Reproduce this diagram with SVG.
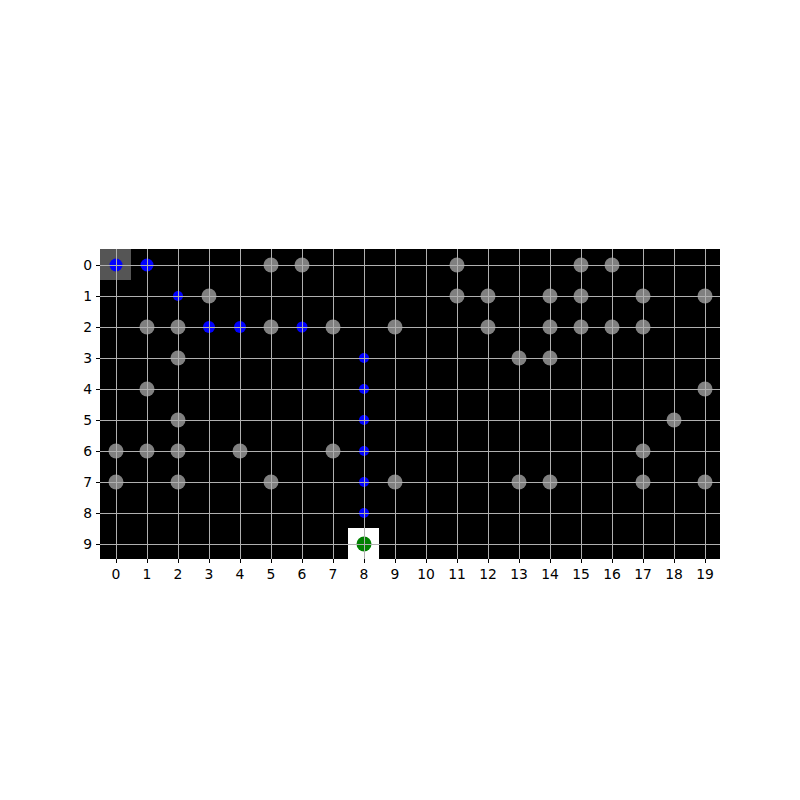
<svg xmlns="http://www.w3.org/2000/svg" width="800" height="800" viewBox="0 0 800 800">
<style>
.obs{fill:#808080}
.path{fill:#0000ff}
.grid line{stroke:#b0b0b0;stroke-width:1}
.tick{stroke:#000;stroke-width:1}
.lbl{font-family:"DejaVu Sans",sans-serif;font-size:13.9px;fill:#000}
</style>
<rect width="800" height="800" fill="#fff"/>
<rect x="100" y="249" width="620" height="310" fill="#000"/>
<g id="start"><rect x="100" y="249" width="31" height="31" fill="#555555"/></g>
<g id="obstacles" transform="translate(0.5,0.5)">
<circle class="obs" cx="270.5" cy="264.5" r="7.5"/><circle class="obs" cx="301.5" cy="264.5" r="7.5"/><circle class="obs" cx="456.5" cy="264.5" r="7.5"/><circle class="obs" cx="580.5" cy="264.5" r="7.5"/><circle class="obs" cx="611.5" cy="264.5" r="7.5"/>
<circle class="obs" cx="208.5" cy="295.5" r="7.5"/><circle class="obs" cx="456.5" cy="295.5" r="7.5"/><circle class="obs" cx="487.5" cy="295.5" r="7.5"/><circle class="obs" cx="549.5" cy="295.5" r="7.5"/><circle class="obs" cx="580.5" cy="295.5" r="7.5"/><circle class="obs" cx="642.5" cy="295.5" r="7.5"/><circle class="obs" cx="704.5" cy="295.5" r="7.5"/>
<circle class="obs" cx="146.5" cy="326.5" r="7.5"/><circle class="obs" cx="177.5" cy="326.5" r="7.5"/><circle class="obs" cx="270.5" cy="326.5" r="7.5"/><circle class="obs" cx="332.5" cy="326.5" r="7.5"/><circle class="obs" cx="394.5" cy="326.5" r="7.5"/><circle class="obs" cx="487.5" cy="326.5" r="7.5"/><circle class="obs" cx="549.5" cy="326.5" r="7.5"/><circle class="obs" cx="580.5" cy="326.5" r="7.5"/><circle class="obs" cx="611.5" cy="326.5" r="7.5"/><circle class="obs" cx="642.5" cy="326.5" r="7.5"/>
<circle class="obs" cx="177.5" cy="357.5" r="7.5"/><circle class="obs" cx="518.5" cy="357.5" r="7.5"/><circle class="obs" cx="549.5" cy="357.5" r="7.5"/>
<circle class="obs" cx="146.5" cy="388.5" r="7.5"/><circle class="obs" cx="704.5" cy="388.5" r="7.5"/>
<circle class="obs" cx="177.5" cy="419.5" r="7.5"/><circle class="obs" cx="673.5" cy="419.5" r="7.5"/>
<circle class="obs" cx="115.5" cy="450.5" r="7.5"/><circle class="obs" cx="146.5" cy="450.5" r="7.5"/><circle class="obs" cx="177.5" cy="450.5" r="7.5"/><circle class="obs" cx="239.5" cy="450.5" r="7.5"/><circle class="obs" cx="332.5" cy="450.5" r="7.5"/><circle class="obs" cx="642.5" cy="450.5" r="7.5"/>
<circle class="obs" cx="115.5" cy="481.5" r="7.5"/><circle class="obs" cx="177.5" cy="481.5" r="7.5"/><circle class="obs" cx="270.5" cy="481.5" r="7.5"/><circle class="obs" cx="394.5" cy="481.5" r="7.5"/><circle class="obs" cx="518.5" cy="481.5" r="7.5"/><circle class="obs" cx="549.5" cy="481.5" r="7.5"/><circle class="obs" cx="642.5" cy="481.5" r="7.5"/><circle class="obs" cx="704.5" cy="481.5" r="7.5"/>
</g>
<g id="path" transform="translate(0.5,0.5)">
<circle class="path" cx="115.5" cy="264.5" r="6.5"/><circle class="path" cx="146.5" cy="264.5" r="6.5"/>
<circle class="path" cx="177.5" cy="295.5" r="5"/>
<circle class="path" cx="208.5" cy="326.5" r="6"/><circle class="path" cx="239.5" cy="326.5" r="6"/><circle class="path" cx="301.5" cy="326.5" r="5.5"/>
<circle class="path" cx="363.5" cy="357.5" r="5"/><circle class="path" cx="363.5" cy="388.5" r="5"/><circle class="path" cx="363.5" cy="419.5" r="5"/><circle class="path" cx="363.5" cy="450.5" r="5"/><circle class="path" cx="363.5" cy="481.5" r="5"/><circle class="path" cx="363.5" cy="512.5" r="5"/>
</g>
<g id="goal">
<rect x="348" y="528" width="31" height="31" fill="#fff"/>
<circle cx="364" cy="544" r="7.5" fill="#008000"/>
</g>
<g class="grid" id="gridlines">
<line x1="116.5" y1="249" x2="116.5" y2="559"/><line x1="147.5" y1="249" x2="147.5" y2="559"/><line x1="178.5" y1="249" x2="178.5" y2="559"/><line x1="209.5" y1="249" x2="209.5" y2="559"/><line x1="240.5" y1="249" x2="240.5" y2="559"/><line x1="271.5" y1="249" x2="271.5" y2="559"/><line x1="302.5" y1="249" x2="302.5" y2="559"/><line x1="333.5" y1="249" x2="333.5" y2="559"/><line x1="364.5" y1="249" x2="364.5" y2="559"/><line x1="395.5" y1="249" x2="395.5" y2="559"/><line x1="426.5" y1="249" x2="426.5" y2="559"/><line x1="457.5" y1="249" x2="457.5" y2="559"/><line x1="488.5" y1="249" x2="488.5" y2="559"/><line x1="519.5" y1="249" x2="519.5" y2="559"/><line x1="550.5" y1="249" x2="550.5" y2="559"/><line x1="581.5" y1="249" x2="581.5" y2="559"/><line x1="612.5" y1="249" x2="612.5" y2="559"/><line x1="643.5" y1="249" x2="643.5" y2="559"/><line x1="674.5" y1="249" x2="674.5" y2="559"/><line x1="705.5" y1="249" x2="705.5" y2="559"/>
<line x1="100" y1="265.5" x2="720" y2="265.5"/><line x1="100" y1="296.5" x2="720" y2="296.5"/><line x1="100" y1="327.5" x2="720" y2="327.5"/><line x1="100" y1="358.5" x2="720" y2="358.5"/><line x1="100" y1="389.5" x2="720" y2="389.5"/><line x1="100" y1="420.5" x2="720" y2="420.5"/><line x1="100" y1="451.5" x2="720" y2="451.5"/><line x1="100" y1="482.5" x2="720" y2="482.5"/><line x1="100" y1="513.5" x2="720" y2="513.5"/><line x1="100" y1="544.5" x2="720" y2="544.5"/>
</g>
<g id="ticks" class="tick">
<line x1="116.5" y1="559" x2="116.5" y2="563"/><line x1="147.5" y1="559" x2="147.5" y2="563"/><line x1="178.5" y1="559" x2="178.5" y2="563"/><line x1="209.5" y1="559" x2="209.5" y2="563"/><line x1="240.5" y1="559" x2="240.5" y2="563"/><line x1="271.5" y1="559" x2="271.5" y2="563"/><line x1="302.5" y1="559" x2="302.5" y2="563"/><line x1="333.5" y1="559" x2="333.5" y2="563"/><line x1="364.5" y1="559" x2="364.5" y2="563"/><line x1="395.5" y1="559" x2="395.5" y2="563"/><line x1="426.5" y1="559" x2="426.5" y2="563"/><line x1="457.5" y1="559" x2="457.5" y2="563"/><line x1="488.5" y1="559" x2="488.5" y2="563"/><line x1="519.5" y1="559" x2="519.5" y2="563"/><line x1="550.5" y1="559" x2="550.5" y2="563"/><line x1="581.5" y1="559" x2="581.5" y2="563"/><line x1="612.5" y1="559" x2="612.5" y2="563"/><line x1="643.5" y1="559" x2="643.5" y2="563"/><line x1="674.5" y1="559" x2="674.5" y2="563"/><line x1="705.5" y1="559" x2="705.5" y2="563"/>
<line x1="96" y1="265.5" x2="100" y2="265.5"/><line x1="96" y1="296.5" x2="100" y2="296.5"/><line x1="96" y1="327.5" x2="100" y2="327.5"/><line x1="96" y1="358.5" x2="100" y2="358.5"/><line x1="96" y1="389.5" x2="100" y2="389.5"/><line x1="96" y1="420.5" x2="100" y2="420.5"/><line x1="96" y1="451.5" x2="100" y2="451.5"/><line x1="96" y1="482.5" x2="100" y2="482.5"/><line x1="96" y1="513.5" x2="100" y2="513.5"/><line x1="96" y1="544.5" x2="100" y2="544.5"/>
</g>
<g id="xlabels" class="lbl" text-anchor="middle">
<text x="116" y="579">0</text><text x="147" y="579">1</text><text x="178" y="579">2</text><text x="209" y="579">3</text><text x="240" y="579">4</text><text x="271" y="579">5</text><text x="302" y="579">6</text><text x="333" y="579">7</text><text x="364" y="579">8</text><text x="395" y="579">9</text><text x="426" y="579">10</text><text x="457" y="579">11</text><text x="488" y="579">12</text><text x="519" y="579">13</text><text x="550" y="579">14</text><text x="581" y="579">15</text><text x="612" y="579">16</text><text x="643" y="579">17</text><text x="674" y="579">18</text><text x="705" y="579">19</text>
</g>
<g id="ylabels" class="lbl" text-anchor="end">
<text x="92" y="270">0</text><text x="92" y="301">1</text><text x="92" y="332">2</text><text x="92" y="363">3</text><text x="92" y="394">4</text><text x="92" y="425">5</text><text x="92" y="456">6</text><text x="92" y="487">7</text><text x="92" y="518">8</text><text x="92" y="549">9</text>
</g>
</svg>
